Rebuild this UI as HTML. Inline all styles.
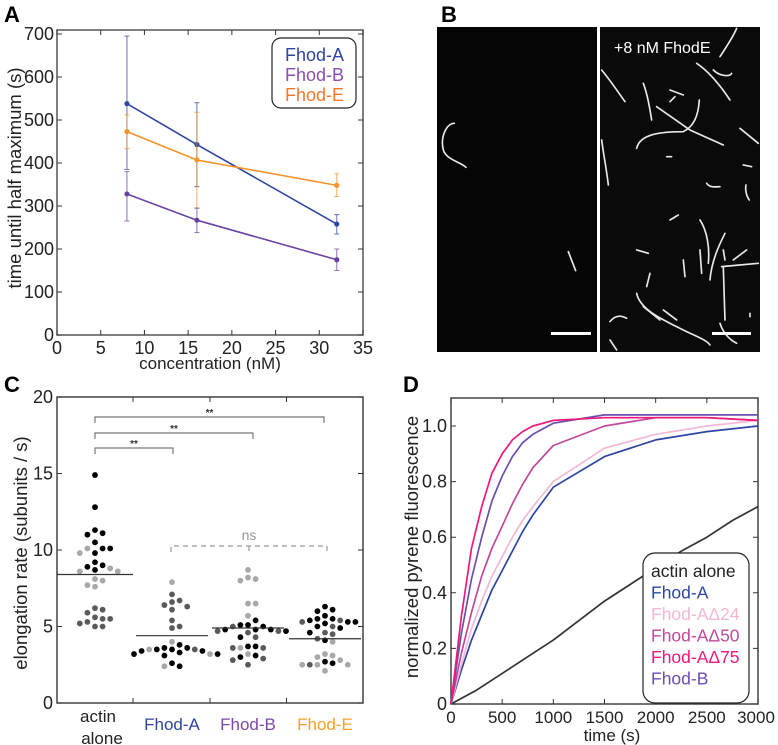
<!DOCTYPE html>
<html><head><meta charset="utf-8">
<style>
html,body{margin:0;padding:0;background:#fff;}
svg{display:block;font-family:"Liberation Sans",Arial,sans-serif;}
</style></head>
<body>
<svg id="fig" width="778" height="745" viewBox="0 0 778 745" xmlns="http://www.w3.org/2000/svg">
<g id="pA"></g>
<g id="pB">
 <text x="441" y="22" font-size="22" font-weight="bold">B</text>
 <rect x="437" y="27" width="160" height="325" fill="#050505"/>
 <rect x="600" y="27" width="160" height="325" fill="#0a0a0a"/>
 <g transform="translate(430,20) scale(0.3333)" fill="none" stroke="#e8e8e8" stroke-width="5" stroke-linecap="round">
  <path d="M73 310 C50 310 30 350 40 390 C50 420 90 425 108 442"/>
  <path d="M415 695 L437 752"/>
  <path d="M515 150 C540 180 560 210 585 245"/>
  <path d="M640 190 C655 230 660 270 665 300"/>
  <path d="M680 260 L780 330 L880 375"/>
  <path d="M620 385 C630 340 700 335 760 335 C790 320 805 290 808 240"/>
  <path d="M720 210 L760 225"/>
  <path d="M720 245 L735 230"/>
  <path d="M800 130 C830 150 860 180 900 240"/>
  <path d="M850 150 C870 170 900 170 905 160"/>
  <path d="M870 110 C890 80 910 50 920 25"/>
  <path d="M930 325 L985 370"/>
  <path d="M515 360 C520 400 530 450 535 495"/>
  <path d="M940 435 L965 440"/>
  <path d="M830 490 C840 505 860 500 870 500"/>
  <path d="M948 495 C945 510 950 530 958 540"/>
  <path d="M710 410 L725 410"/>
  <path d="M720 600 L745 585"/>
  <path d="M810 600 C830 630 840 680 835 730"/>
  <path d="M840 780 C845 720 870 670 885 640"/>
  <path d="M810 690 L815 760"/>
  <path d="M760 720 L765 770"/>
  <path d="M660 760 L650 800"/>
  <path d="M620 690 L655 700"/>
  <path d="M620 820 C630 870 700 900 760 930 C800 950 830 960 840 975"/>
  <path d="M880 740 L885 900"/>
  <path d="M875 740 L985 730"/>
  <path d="M910 720 L950 690"/>
  <path d="M540 905 C560 880 580 890 590 895"/>
  <path d="M870 910 C880 940 900 960 920 970"/>
  <path d="M640 860 L690 900"/>
  <path d="M880 690 L885 720"/>
  <path d="M960 880 L960 890"/>
  <path d="M540 960 L560 990"/>
  <path d="M700 870 L740 900"/>
 </g>
 <text x="614" y="53" font-size="16" fill="#fff">+8 nM FhodE</text>
 <rect x="551" y="332" width="40" height="3" fill="#fff"/>
 <rect x="712" y="332" width="39" height="3" fill="#fff"/>
</g>
<g id="pC"></g>
<g id="pD"></g>
</svg>
<script>
const NS="http://www.w3.org/2000/svg";
function mk(parent,tag,attrs,text){const e=document.createElementNS(NS,tag);for(const k in attrs)e.setAttribute(k,attrs[k]);if(text!==undefined)e.textContent=text;parent.appendChild(e);return e;}

// ---------- Panel A data ----------
const concA=[8,16,32];
const seriesNamesA=["Fhod-A","Fhod-B","Fhod-E"];
const fhodAVals=[538,443,258];
const fhodAHi=[695,540,280];
const fhodALo=[385,345,235];
const fhodBVals=[328,267,175];
const fhodBHi=[380,295,200];
const fhodBLo=[265,238,150];
const fhodEVals=[473,407,348];
const fhodEHi=[512,518,375];
const fhodELo=[433,295,322];
const xTicksA=[0,5,10,15,20,25,30,35];
const yTicksA=[0,100,200,300,400,500,600,700];

// ---------- Panel C data ----------
const categoriesC=["actin alone","Fhod-A","Fhod-B","Fhod-E"];
const actinRates=[14.9,12.8,11.3,11.1,11.0,10.5,10.1,10.1,10.1,9.8,9.8,9.0,9.2,8.9,8.7,8.8,8.6,8.6,8.0,8.1,7.6,7.7,6.2,6.1,5.9,5.6,5.5,5.5,5.3,5.2,5.0,5.0];
const actinShades=[0,0,0,0,0,0,0,2,0,0,2,0,0,0,0,2,2,2,2,2,2,2,1,1,1,1,1,1,1,1,1,1];
const fhodARates=[7.9,7.1,6.6,6.3,6.1,6.4,6.7,5.4,5.0,4.9,4.0,3.8,3.6,3.5,3.5,3.5,3.6,3.4,3.4,3.3,3.2,3.2,3.1,3.2,3.5,2.6,2.4,2.4];
const fhodAShades=[2,1,1,1,1,1,1,1,1,1,2,0,0,0,0,1,0,0,0,0,2,0,0,0,2,0,0,2];
const fhodBRates=[8.7,8.2,8.1,8.0,6.5,6.5,5.7,5.4,5.1,5.1,5.0,5.0,4.8,4.8,4.8,4.7,4.7,4.7,4.6,4.3,4.3,3.7,3.6,3.6,3.7,3.6,3.2,3.1,3.0,2.9,2.8,2.5];
const fhodBShades=[2,2,2,2,2,2,2,0,0,0,0,1,0,0,0,1,1,0,1,1,0,0,2,1,0,1,2,0,0,1,1,1];
const fhodERates=[6.3,6.0,6.1,5.7,5.5,5.4,5.4,5.5,5.3,5.3,5.3,5.2,5.0,5.0,4.9,4.6,4.5,4.6,4.2,4.1,4.0,3.2,3.0,2.8,3.1,2.6,2.5,2.5,2.5,2.5,2.7,2.1];
const fhodEShades=[0,0,0,0,0,1,0,0,0,1,0,0,1,0,0,1,1,0,1,0,2,2,2,2,2,0,2,1,2,2,0,2];
const meansC=[8.4,4.4,4.9,4.2];
const yTicksC=[0,5,10,15,20];

// ---------- Panel D data ----------
const timeD=[0,100,200,300,400,500,600,700,800,1000,1500,2000,2500,3000];
const fhodAD=[0,0.12,0.23,0.32,0.41,0.48,0.55,0.62,0.68,0.78,0.89,0.95,0.98,1.0];
const fhodA24D=[0,0.14,0.27,0.37,0.46,0.53,0.6,0.66,0.71,0.8,0.92,0.97,1.0,1.02];
const fhodA50D=[0,0.18,0.33,0.46,0.56,0.64,0.72,0.79,0.85,0.93,1.0,1.03,1.03,1.02];
const fhodA75D=[0,0.31,0.56,0.71,0.83,0.9,0.95,0.98,1.0,1.02,1.03,1.03,1.03,1.02];
const fhodBD=[0,0.25,0.45,0.6,0.73,0.82,0.89,0.94,0.97,1.01,1.04,1.04,1.04,1.04];
const timeActin=[0,250,500,750,1000,1250,1500,1750,2000,2250,2500,2750,3000];
const actinD=[0,0.05,0.11,0.17,0.23,0.3,0.37,0.43,0.49,0.55,0.6,0.66,0.71];
const xTicksD=[0,500,1000,1500,2000,2500,3000];
const yTicksD=[0,0.2,0.4,0.6,0.8,1.0];
const yTickLabelsD=["0","0.2","0.4","0.6","0.8","1.0"];

// ================= Panel A =================
(function(){
const g=document.getElementById('pA');
const L=57,R=363,T=30,B=335;
const xA=v=>L+v*(R-L)/35;
const yA=v=>B-v*(301/700);
const lbl=mk(g,'text',{x:4,y:22,'font-size':22,'font-weight':'bold'},'A');


const box=mk(g,'rect',{x:L,y:T,width:R-L,height:B-T,fill:'none',stroke:'#555','stroke-width':1.5});


xTicksA.forEach(v=>{
 const x=xA(v);
 const t=mk(g,'path',{d:`M${x} ${B}v-5M${x} ${T}v5`,stroke:'#333','stroke-width':1});
 
 
 const tl=mk(g,'text',{x:x,y:354,'font-size':18,'text-anchor':'middle',fill:'#222'},String(v));
 
 
});
yTicksA.forEach(v=>{
 const y=yA(v);
 const t=mk(g,'path',{d:`M${L} ${y}h5M${R} ${y}h-5`,stroke:'#333','stroke-width':1});
 
 
 const tl=mk(g,'text',{x:54,y:y+6,'font-size':18,'text-anchor':'end',fill:'#222'},String(v));
 
 
});
const xt=mk(g,'text',{x:210,y:369,'font-size':17,'text-anchor':'middle',fill:'#222'},'concentration (nM)');


const yt=mk(g,'text',{x:0,y:0,'font-size':18.5,'text-anchor':'middle',fill:'#222',transform:'translate(21,178) rotate(-90)'},'time until half maximum (s)');


const series=[[fhodAVals,fhodAHi,fhodALo,'#2f45a3','fhod-a'],[fhodEVals,fhodEHi,fhodELo,'#f7922a','fhod-e'],[fhodBVals,fhodBHi,fhodBLo,'#6a44a5','fhod-b']];
series.forEach(([vals,hi,lo,col,nm])=>{
 vals.forEach((v,i)=>{
  const x=xA(concA[i]);
  const eb=mk(g,'path',{d:`M${x} ${yA(hi[i])}V${yA(lo[i])}M${x-2.5} ${yA(hi[i])}h5M${x-2.5} ${yA(lo[i])}h5`,stroke:col,'stroke-width':1,opacity:0.75});
  
  
 });
 const line=mk(g,'polyline',{points:vals.map((v,i)=>xA(concA[i])+','+yA(v)).join(' '),fill:'none',stroke:col,'stroke-width':1.6});
 
 
 vals.forEach((v,i)=>{
  const c=mk(g,'circle',{cx:xA(concA[i]),cy:yA(v),r:2.6,fill:col});
  
  
 });
});
const lb=mk(g,'rect',{x:272,y:38,width:84,height:70,rx:9,fill:'#fff',stroke:'#222','stroke-width':1.2});


const lcols=['#2f45a3','#8a4fb0','#f7782a'];
seriesNamesA.forEach((n,i)=>{
 const t=mk(g,'text',{x:344,y:61+i*20,'font-size':18,'text-anchor':'end',fill:lcols[i]},n);
 
 
});
})();

// ================= Panel C =================
(function(){
const g=document.getElementById('pC');
const L=57,R=363,T=397,B=703;
const centers=[95,172,248,325];
const yC=v=>B-v*(B-T)/20;
const lbl=mk(g,'text',{x:4,y:392,'font-size':22,'font-weight':'bold'},'C');


const box=mk(g,'rect',{x:L,y:T,width:R-L,height:B-T,fill:'none',stroke:'#444','stroke-width':1.5});


yTicksC.forEach(v=>{
 const y=yC(v);
 const t=mk(g,'path',{d:`M${L} ${y}h5M${R} ${y}h-5`,stroke:'#333'});
 
 
 const tl=mk(g,'text',{x:53,y:y+6,'font-size':18,'text-anchor':'end',fill:'#222'},String(v));
 
 
});
for(let i=1;i<categoriesC.length;i++){
 const x=(centers[i-1]+centers[i])/2+ (i===1?-0.5:0);
 const t=mk(g,'path',{d:`M${x} ${B}v-5M${x} ${T}v5`,stroke:'#333'});
 
 
}
const yt=mk(g,'text',{x:0,y:0,'font-size':18.5,'text-anchor':'middle',fill:'#222',transform:'translate(27,553) rotate(-90)'},'elongation rate (subunits / s)');


const catCols=['#222','#2f45a3','#7e48a8','#f7a023'];
categoriesC.forEach((c,i)=>{
 if(i===0){
  const a=mk(g,'text',{x:centers[0]+3,y:722,'font-size':17,'text-anchor':'middle',fill:'#222'},'actin');
  
  
  const b=mk(g,'text',{x:centers[0]+7,y:744,'font-size':17,'text-anchor':'middle',fill:'#222'},'alone');
  
  
 } else {
  const t=mk(g,'text',{x:centers[i],y:730,'font-size':17,'text-anchor':'middle',fill:catCols[i]},c);
  
  
 }
});
const shadeCols=['#000','#5a5a5a','#a8a8a8'];
const groups=[[actinRates,actinShades],[fhodARates,fhodAShades],[fhodBRates,fhodBShades],[fhodERates,fhodEShades]];
groups.forEach(([vals,sh],gi)=>{
 const placed=[];
 const idx=vals.map((v,i)=>i).sort((a,b)=>vals[b]-vals[a]);
 idx.forEach(i=>{
  const y=yC(vals[i]);
  let dx=0;
  for(let k=0;k<40;k++){
   const cand=(k%2?1:-1)*Math.ceil(k/2)*7.6;
   if(placed.every(p=>Math.hypot(p[0]-(centers[gi]+cand),p[1]-y)>=6.2)){dx=cand;break;}
  }
  placed.push([centers[gi]+dx,y]);
  const c=mk(g,'circle',{cx:centers[gi]+dx,cy:y,r:2.9,fill:shadeCols[sh[i]]});
  
  
 });
 const half=gi===0?38:36;
 const m=mk(g,'line',{x1:centers[gi]-half,x2:centers[gi]+half,y1:yC(meansC[gi]),y2:yC(meansC[gi]),stroke:'#333','stroke-width':1.2});
 
 
});
const br=[[173,448],[253,433],[324,417]];
br.forEach(([x2,y])=>{
 const p=mk(g,'path',{d:`M95 ${y+6}V${y}H${x2}V${y+6}`,fill:'none',stroke:'#777','stroke-width':1.2});
 
 
 const s=mk(g,'text',{x:(95+x2)/2,y:y-1,'font-size':10,'font-weight':'bold','text-anchor':'middle',fill:'#333'},'**');
 
 
});
const ns=mk(g,'path',{d:'M171 552V546H327V552M249 546V552',fill:'none',stroke:'#999','stroke-width':1.2,'stroke-dasharray':'5,4'});


const nst=mk(g,'text',{x:249,y:540,'font-size':14,'text-anchor':'middle',fill:'#999'},'ns');


})();

// ================= Panel D =================
(function(){
const g=document.getElementById('pD');
const L=451,R=758,T=398,B=704;
const xD=t=>L+t*(R-L)/3000;
const yD=v=>B-v*278;
const lbl=mk(g,'text',{x:403,y:392,'font-size':22,'font-weight':'bold'},'D');


const box=mk(g,'rect',{x:L,y:T,width:R-L,height:B-T,fill:'none',stroke:'#444','stroke-width':1.5});


xTicksD.forEach(v=>{
 const x=xD(v);
 const t=mk(g,'path',{d:`M${x} ${B}v-5M${x} ${T}v5`,stroke:'#333'});
 
 
 const tl=mk(g,'text',{x:v===3000?x-2:x,y:723,'font-size':17,'text-anchor':'middle',fill:'#222'},String(v));
 
 
});
yTicksD.forEach((v,i)=>{
 const y=yD(v);
 const t=mk(g,'path',{d:`M${L} ${y}h5M${R} ${y}h-5`,stroke:'#333'});
 
 
 const tl=mk(g,'text',{x:447,y:y+6,'font-size':18,'text-anchor':'end',fill:'#222'},yTickLabelsD[i]);
 
 
});
const xt=mk(g,'text',{x:612,y:741,'font-size':17,'text-anchor':'middle',fill:'#222'},'time (s)');


const yt=mk(g,'text',{x:0,y:0,'font-size':18.5,'text-anchor':'middle',fill:'#222',transform:'translate(418,547) rotate(-90)'},'normalized pyrene fluorescence');


const curves=[[timeActin,actinD,'#333','actin-alone'],[timeD,fhodAD,'#2f45a3','fhod-a'],[timeD,fhodA24D,'#f2b8d6','fhod-a-d24'],[timeD,fhodA50D,'#c2489a','fhod-a-d50'],[timeD,fhodBD,'#6a4fb0','fhod-b'],[timeD,fhodA75D,'#ec1a7a','fhod-a-d75']];
curves.forEach(([ts,vs,col,nm])=>{
 const p=mk(g,'polyline',{points:ts.map((t,i)=>xD(t).toFixed(1)+','+yD(vs[i]).toFixed(1)).join(' '),fill:'none',stroke:col,'stroke-width':1.7,'stroke-linejoin':'round'});
 
 
});
const lb=mk(g,'rect',{x:643,y:553,width:106,height:150,rx:12,fill:'#fff',stroke:'#222','stroke-width':1.2});


const names=['actin alone','Fhod-A','Fhod-AΔ24','Fhod-AΔ50','Fhod-AΔ75','Fhod-B'];
const cols=['#222','#2f45a3','#f2b8d6','#c2489a','#ec1a7a','#6a4fb0'];
names.forEach((n,i)=>{
 const t=mk(g,'text',{x:651,y:577+i*21.5,'font-size':17.5,fill:cols[i]},n);
 
 
});
})();
</script>
</body></html>
